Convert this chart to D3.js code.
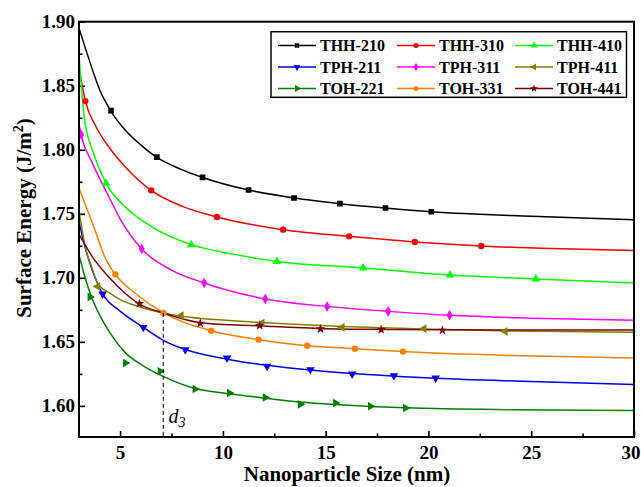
<!DOCTYPE html>
<html>
<head>
<meta charset="utf-8">
<script src="https://cdn.jsdelivr.net/npm/d3@7"></script>
<style>
    body { margin: 0; background: #fff; }
    svg text { font-family: "Liberation Serif", "Times New Roman", serif; font-weight: bold; }
</style>
</head>
<body>
<script>
let w = 641;
let h = 487;
let padLeft = 79, padRight = 634, padTop = 21.7, padBottom = 437;

// series names, colours and marker shapes (legend order)
var seriesNames = ["THH-210", "THH-310", "THH-410", "TPH-211", "TPH-311", "TPH-411", "TOH-221", "TOH-331", "TOH-441"];
var seriesColors = ["#000000", "#ff0000", "#00ff00", "#0000ff", "#ff00ff", "#808000", "#008000", "#ff8000", "#800000"];
var seriesShapes = ["square", "circle", "up", "down", "diamond", "left", "right", "circle", "star"];

// fitted curves [size nm, surface energy J/m2]
var thh210Line = [[3,1.895],[3.5,1.870],[4,1.847],[4.56,1.830],[5.29,1.8146],[6.1,1.8025],[6.79,1.794],[8,1.7845],[9.01,1.7784],[11.25,1.7686],[13.46,1.7623],[15.69,1.7579],[17.91,1.7545],[20.14,1.7516],[25,1.748],[30,1.7454]];
var thh310Line = [[3,1.864],[3.31,1.838],[3.83,1.818],[4.48,1.8016],[5.29,1.786],[6.51,1.7683],[8,1.756],[9.71,1.7475],[12.93,1.7376],[16.14,1.7324],[19.34,1.728],[22.57,1.7249],[26,1.7228],[30,1.7214]];
var thh410Line = [[3,1.874],[3.26,1.825],[3.67,1.799],[4.32,1.7738],[5.29,1.7548],[6.1,1.7444],[6.75,1.7378],[8.46,1.7259],[10.5,1.7185],[12.63,1.7128],[16.82,1.7077],[21.05,1.7022],[25.22,1.6991],[30,1.696]];
var tph211Line = [[3,1.744],[3.26,1.726],[3.67,1.705],[4.15,1.6874],[5,1.674],[6.13,1.6613],[7.1,1.6512],[8.17,1.644],[10.2,1.6365],[12.15,1.6317],[14.26,1.628],[16.29,1.6252],[18.32,1.6232],[20.35,1.6215],[25,1.619],[30,1.6166]];
var tph311Line = [[3,1.82],[3.1,1.812],[3.67,1.789],[4.48,1.7625],[5,1.746],[6.05,1.7225],[7.5,1.706],[9.09,1.696],[12.06,1.6835],[15.07,1.6777],[18.04,1.6738],[21.03,1.6707],[25,1.6685],[30,1.6668]];
var tph411Line = [[3,1.752],[3.34,1.722],[3.67,1.706],[3.91,1.6955],[4.5,1.688],[5,1.683],[5.81,1.678],[7.1,1.6726],[8,1.670],[10,1.667],[12,1.665],[15.8,1.662],[19.78,1.660],[24,1.6585],[30,1.6574]];
var toh221Line = [[3,1.718],[3.3,1.700],[3.54,1.688],[4,1.671],[4.47,1.658],[5.29,1.641],[6.1,1.6315],[7.1,1.623],[8.65,1.6135],[10.32,1.6095],[12.06,1.606],[13.77,1.603],[15.48,1.601],[17.18,1.5995],[18.89,1.5985],[24,1.597],[30,1.5963]];
var toh331Line = [[3,1.770],[3.67,1.742],[4.32,1.714],[4.8,1.702],[5.81,1.687],[7.11,1.6726],[9.43,1.6587],[11.74,1.6517],[14.1,1.647],[16.42,1.6447],[18.76,1.6424],[24,1.6393],[30,1.6374]];
var toh441Line = [[3,1.734],[3.67,1.716],[4.48,1.700],[5.2,1.6885],[5.94,1.6795],[7.1,1.6726],[8.9,1.665],[11.79,1.6625],[14.75,1.6605],[17.7,1.6597],[20.68,1.6594],[25,1.6593],[30,1.6593]];

// calculated points shown as markers
var thh210Pts = [[4.56,1.8305],[6.79,1.7943],[9.01,1.7784],[11.25,1.7686],[13.46,1.7623],[15.69,1.7579],[17.91,1.7545],[20.14,1.7516]];
var thh310Pts = [[3.31,1.838],[6.51,1.7683],[9.71,1.7475],[12.93,1.7376],[16.14,1.7324],[19.34,1.728],[22.57,1.7249]];
var thh410Pts = [[4.32,1.7738],[8.46,1.7259],[12.63,1.7128],[16.82,1.7077],[21.05,1.7022],[25.22,1.6991]];
var tph211Pts = [[4.15,1.6874],[6.13,1.6613],[8.17,1.6439],[10.2,1.6374],[12.15,1.6309],[14.26,1.6283],[16.29,1.6249],[18.32,1.6236],[20.35,1.6218]];
var tph311Pts = [[3.1,1.812],[6.05,1.7225],[9.09,1.696],[12.06,1.6835],[15.07,1.6777],[18.04,1.6738],[21.03,1.6707]];
var tph411Pts = [[3.91,1.6933],[7.97,1.6706],[11.9,1.6646],[15.8,1.6613],[19.78,1.6603],[23.73,1.6582]];
var toh221Pts = [[3.54,1.6851],[5.26,1.6335],[6.95,1.627],[8.65,1.6132],[10.32,1.6101],[12.06,1.6066],[13.77,1.6012],[15.48,1.6023],[17.18,1.5997],[18.89,1.5984]];
var toh331Pts = [[4.77,1.7027],[7.11,1.6726],[9.43,1.6587],[11.74,1.6517],[14.1,1.647],[16.42,1.6447],[18.76,1.6424]];
var toh441Pts = [[5.94,1.6798],[8.9,1.6645],[11.79,1.6627],[14.75,1.6601],[17.7,1.6595],[20.68,1.659]];

var lines = [thh210Line, thh310Line, thh410Line, tph211Line, tph311Line, tph411Line, toh221Line, toh331Line, toh441Line];
var points = [thh210Pts, thh310Pts, thh410Pts, tph211Pts, tph311Pts, tph411Pts, toh221Pts, toh331Pts, toh441Pts];

// axis ticks
var xTicks = [5, 10, 15, 20, 25, 30];
var xMinor = [7.5, 12.5, 17.5, 22.5, 27.5];
var yTicks = [1.60, 1.65, 1.70, 1.75, 1.80, 1.85, 1.90];
var yMinor = [1.625, 1.675, 1.725, 1.775, 1.825, 1.875];

// crossing point d3
var crossX = 7.1, crossY = 1.6726;

let svg = d3.select("body").append("svg").attr("width", w).attr("height", h);

let x = d3.scaleLinear().domain([3, 30]).range([padLeft, padRight]);
let y = d3.scaleLinear().domain([1.5757, 1.90]).range([padBottom, padTop]);

svg.append("defs").append("clipPath").attr("id", "plot")
    .append("rect")
    .attr("x", padLeft).attr("y", padTop)
    .attr("width", padRight - padLeft).attr("height", padBottom - padTop);

function symbolPath(shape, size) {
    var type = d3.symbolTriangle, rot = 0;
    if (shape === "square") type = d3.symbolSquare;
    else if (shape === "circle") type = d3.symbolCircle;
    else if (shape === "diamond") type = d3.symbolDiamond;
    else if (shape === "star") type = d3.symbolStar;
    else if (shape === "down") rot = 180;
    else if (shape === "left") rot = -90;
    else if (shape === "right") rot = 90;
    return { d: d3.symbol().type(type).size(size)(), rot: rot };
}

// axes
let xAxisG = svg.append("g")
    .attr("transform", "translate(0," + padBottom + ")")
    .call(d3.axisBottom(x).tickValues(xTicks).tickSize(-6).tickPadding(9).tickFormat(d3.format("d")));
svg.append("g")
    .attr("transform", "translate(0," + padBottom + ")")
    .call(d3.axisBottom(x).tickValues(xMinor).tickSize(-3.5).tickFormat(""));
svg.append("g")
    .attr("transform", "translate(" + padLeft + ",0)")
    .call(d3.axisLeft(y).tickValues(yTicks).tickSize(-6).tickPadding(4).tickFormat(d3.format(".2f")));
svg.append("g")
    .attr("transform", "translate(" + padLeft + ",0)")
    .call(d3.axisLeft(y).tickValues(yMinor).tickSize(-3.5).tickFormat(""));

svg.selectAll(".domain").remove();
svg.selectAll(".tick line").attr("stroke", "#000").attr("stroke-width", 1.6);
svg.selectAll(".tick text")
    .attr("fill", "#000")
    .style("font-size", "19px")
    .style("font-family", "'Liberation Serif', 'Times New Roman', serif")
    .style("font-weight", "bold");

// last x label sits on the page edge, keep it inside
xAxisG.selectAll(".tick text")
    .filter(function(d) { return d === 30; })
    .attr("text-anchor", "end")
    .attr("x", 6);

// curves
let plot = svg.append("g").attr("clip-path", "url(#plot)");
let line = d3.line()
    .x(function(d) { return x(d[0]); })
    .y(function(d) { return y(d[1]); })
    .curve(d3.curveMonotoneX);

lines.forEach(function(data, i) {
    plot.append("path")
        .attr("d", line(data))
        .attr("fill", "none")
        .attr("stroke", seriesColors[i])
        .attr("stroke-width", 1.5);
});

points.forEach(function(data, i) {
    var s = symbolPath(seriesShapes[i], seriesShapes[i] === "star" ? 30 : 32);
    plot.selectAll("path.m" + i)
        .data(data)
        .enter()
        .append("path")
        .attr("class", "m" + i)
        .attr("d", s.d)
        .attr("fill", seriesColors[i])
        .attr("transform", function(d) {
            return "translate(" + x(d[0]) + "," + y(d[1]) + ") rotate(" + s.rot + ")";
        });
});

// dashed marker line for d3
svg.append("line")
    .attr("x1", x(crossX)).attr("x2", x(crossX))
    .attr("y1", y(crossY)).attr("y2", padBottom)
    .attr("stroke", "#000")
    .attr("stroke-width", 1)
    .attr("stroke-dasharray", "4,3");

let d3Label = svg.append("text")
    .attr("x", 168.5)
    .attr("y", 423)
    .style("font-size", "20px")
    .style("font-style", "italic")
    .style("font-weight", "normal");
d3Label.append("tspan").text("d");
d3Label.append("tspan").attr("dy", 4).style("font-size", "14px").text("3");

// frame
svg.append("rect")
    .attr("x", padLeft).attr("y", padTop)
    .attr("width", padRight - padLeft).attr("height", padBottom - padTop)
    .attr("fill", "none")
    .attr("stroke", "#000")
    .attr("stroke-width", 2);

// legend
svg.append("rect")
    .attr("x", 271).attr("y", 31.7)
    .attr("width", 355.5).attr("height", 65.6)
    .attr("fill", "#fff")
    .attr("stroke", "#000")
    .attr("stroke-width", 1.5);

var legendCols = [278, 397, 515];
var legendRows = [45.5, 67, 88.5];
seriesNames.forEach(function(name, i) {
    var lx = legendCols[i % 3], ly = legendRows[Math.floor(i / 3)];
    svg.append("line")
        .attr("x1", lx).attr("x2", lx + 38)
        .attr("y1", ly).attr("y2", ly)
        .attr("stroke", seriesColors[i])
        .attr("stroke-width", 1.5);
    var s = symbolPath(seriesShapes[i], 20);
    svg.append("path")
        .attr("d", s.d)
        .attr("fill", seriesColors[i])
        .attr("transform", "translate(" + (lx + 19) + "," + ly + ") rotate(" + s.rot + ")");
    svg.append("text")
        .attr("x", lx + 42)
        .attr("y", ly)
        .attr("dy", "0.35em")
        .style("font-size", "16px")
        .text(name);
});

// axis titles
svg.append("text")
    .attr("x", 347)
    .attr("y", 481)
    .style("font-size", "21px")
    .style("text-anchor", "middle")
    .text("Nanoparticle Size (nm)");

let yTitle = svg.append("text")
    .attr("transform", "translate(31,218) rotate(-90)")
    .style("font-size", "21px")
    .style("text-anchor", "middle");
yTitle.append("tspan").text("Surface Energy (J/m");
yTitle.append("tspan").attr("dy", -8).style("font-size", "14px").text("2");
yTitle.append("tspan").attr("dy", 8).text(")");
</script>
</body>
</html>
